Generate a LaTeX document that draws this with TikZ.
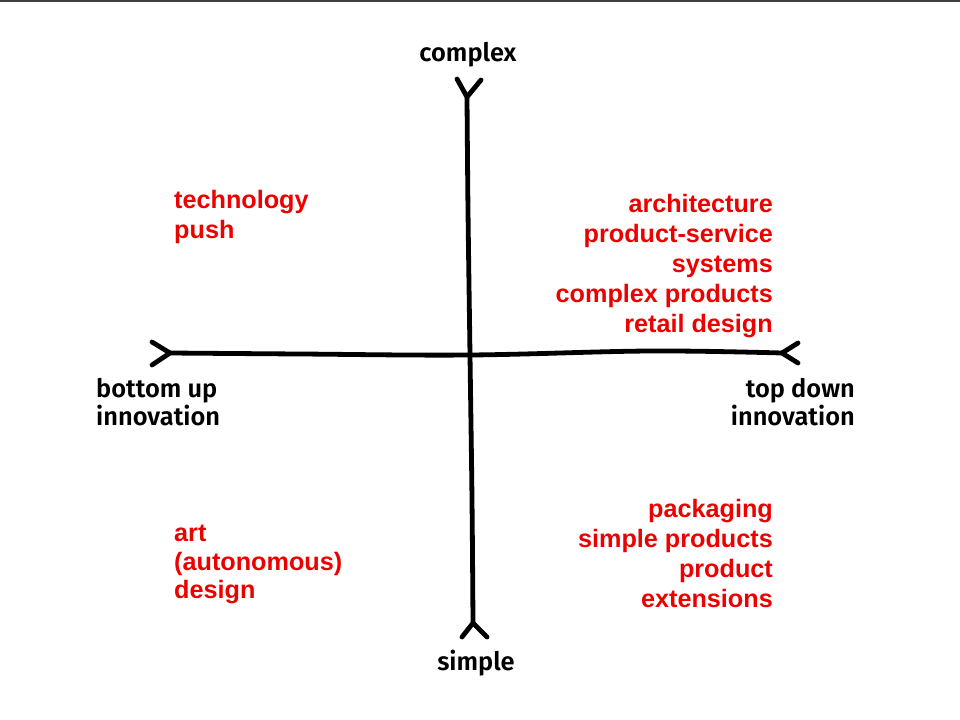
\documentclass[tikz,border=0pt]{standalone}
\usepackage{fontspec}
\usepackage{xcolor}
\usepackage{tikz}
\newfontfamily\quadfont{Liberation Sans}
\newfontfamily\axisfont{Fira Sans SemiBold}
\definecolor{quadred}{RGB}{236,0,0}

\begin{document}
\begin{tikzpicture}[x=1bp,y=-1bp,line cap=round,line join=round,
  quad/.style={inner sep=0,text=quadred,font=\quadfont\bfseries\fontsize{25.3}{30}\selectfont},
  axlabel/.style={inner sep=0,font=\axisfont\fontsize{25.5}{28}\selectfont},
  axis/.style={line width=4.8bp}]
 \useasboundingbox (0,0) rectangle (960,720);
 \fill[black!75] (0,0) rectangle (960,2);
 % ends of the two hand-drawn axes
 \coordinate (top) at (467,97); \coordinate (bot) at (473,623);
 \coordinate (lft) at (170,353); \coordinate (rgt) at (782,353);
 \draw[axis] plot[smooth,tension=0.6] coordinates {(top) (468,210) (470,355) (472,500) (bot)};
 \draw[axis] plot[smooth,tension=0.6] coordinates {(lft) (300,354) (470,355) (650,351) (rgt)};
 \draw[axis] (457,79) -- (top) -- (481,80);
 \draw[axis] (462,637) -- (bot) -- (487,637);
 \draw[axis] (152,342) -- (lft) -- (152,365);
 \draw[axis] (798,343) -- (rgt) -- (798,363);
 % axis labels
 \node[axlabel,anchor=base] (cx) at (468,62) {complex};
 \node[axlabel,anchor=base] (sp) at (476,670) {simple};
 \foreach \l [count=\i] in {bottom up,innovation}
   {\node[axlabel,anchor=base west] (bu\i) at (96,369+28*\i) {\l};}
 \foreach \l [count=\i] in {top down,innovation}
   {\node[axlabel,anchor=base east] (td\i) at (855,369+28*\i) {\l};}
 % quadrants
 \foreach \l [count=\i] in {technology,push}
   {\node[quad,anchor=base west] (tp\i) at (174,178+30*\i) {\l};}
 \foreach \l [count=\i] in {architecture,product-service,systems,complex products,retail design}
   {\node[quad,anchor=base east] (ar\i) at (773,182+30*\i) {\l};}
 \foreach \l [count=\i] in {art,(autonomous),design}
   {\node[quad,anchor=base west] (at\i) at (174,513+28.5*\i) {\l};}
 \foreach \l [count=\i] in {packaging,simple products,product,extensions}
   {\node[quad,anchor=base east] (pk\i) at (773,487+30*\i) {\l};}
\end{tikzpicture}
\end{document}
